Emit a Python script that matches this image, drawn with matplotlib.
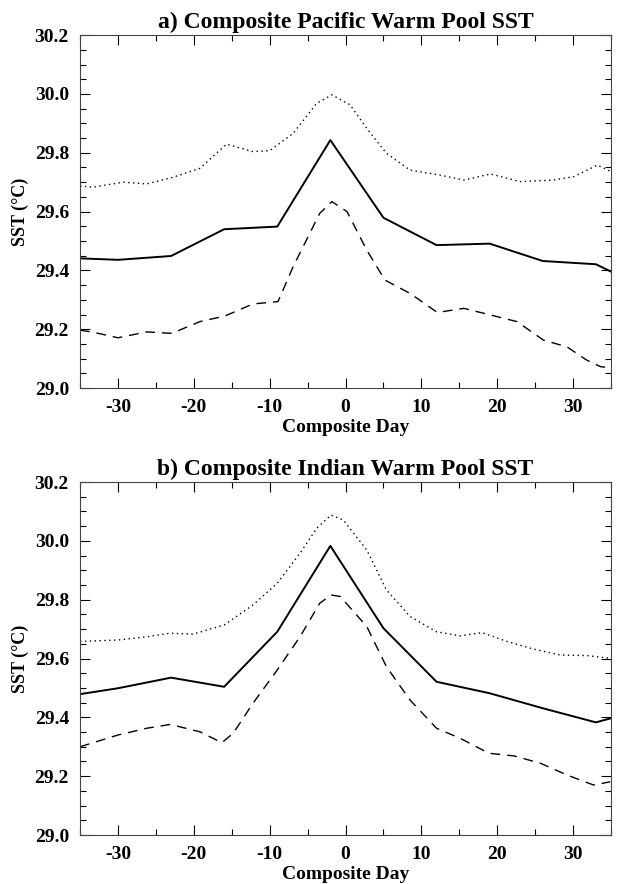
import numpy as np
import matplotlib.pyplot as plt
from matplotlib.ticker import MultipleLocator

plt.rcParams['font.family'] = ['Liberation Serif', 'DejaVu Serif']
plt.rcParams['font.weight'] = 'bold'

# panel a) Pacific warm pool
pac_mean_day = [-35, -30, -23, -16, -9, -2, 5, 12, 19, 26, 33, 35]
pac_mean = [29.441, 29.436, 29.449, 29.540, 29.549, 29.843, 29.579, 29.486, 29.491, 29.432, 29.421, 29.396]

pac_hi_day = [-35, -33.3, -29.3, -26.2, -22.7, -19.2, -15.7, -12.2, -10.0, -6.9, -3.8, -1.8,
              0.6, 2.8, 5.4, 8.5, 12.5, 15.6, 19.1, 23.0, 27.4, 30.1, 33.2, 35]
pac_hi = [29.687, 29.683, 29.700, 29.694, 29.717, 29.747, 29.829, 29.804, 29.807, 29.866, 29.968, 29.997,
          29.963, 29.883, 29.798, 29.741, 29.724, 29.707, 29.728, 29.702, 29.707, 29.719, 29.758, 29.736]

pac_lo_day = [-35, -33.3, -30, -26.2, -22.9, -19.2, -15.9, -12.2, -8.9, -6.9, -3.4, -1.8, 0.2,
              2.8, 5.2, 8.5, 12.1, 15.6, 19.2, 22.6, 26.1, 29.2, 31.8, 33.6, 34.5]
pac_lo = [29.197, 29.190, 29.171, 29.191, 29.186, 29.226, 29.245, 29.286, 29.294, 29.413, 29.594, 29.634, 29.600,
          29.469, 29.367, 29.322, 29.257, 29.271, 29.248, 29.226, 29.163, 29.140, 29.095, 29.073, 29.070]

# panel b) Indian warm pool
ind_mean_day = [-35, -30, -23, -16, -9, -2, 5, 12, 19, 26, 33, 35]
ind_mean = [29.479, 29.499, 29.535, 29.504, 29.691, 29.983, 29.703, 29.521, 29.482, 29.431, 29.383, 29.397]

ind_hi_day = [-35, -30, -26.2, -23.1, -20.1, -16, -12.2, -9.0, -6.0, -3.8, -1.9, -0.3,
              2.8, 5.4, 8.5, 12.0, 15.1, 18.0, 21.3, 24.8, 28.3, 31.8, 34.9]
ind_hi = [29.658, 29.663, 29.674, 29.686, 29.683, 29.714, 29.782, 29.856, 29.958, 30.043, 30.088, 30.071,
          29.969, 29.833, 29.743, 29.691, 29.677, 29.688, 29.658, 29.632, 29.612, 29.610, 29.601]

ind_lo_day = [-35, -30, -26.2, -23.1, -19.2, -16.3, -14.8, -12.2, -9.0, -6.0, -3.4, -1.9, -0.7,
              2.8, 5.4, 8.5, 12.0, 15.1, 18.9, 22.2, 25.7, 29.2, 32.7, 34.9]
ind_lo = [29.300, 29.340, 29.363, 29.376, 29.351, 29.314, 29.346, 29.448, 29.561, 29.674, 29.788, 29.816, 29.811,
          29.709, 29.572, 29.459, 29.363, 29.329, 29.278, 29.269, 29.244, 29.204, 29.170, 29.181]

panels = [
    ('a) Composite Pacific Warm Pool SST', pac_mean_day, pac_mean, pac_hi_day, pac_hi, pac_lo_day, pac_lo),
    ('b) Composite Indian Warm Pool SST', ind_mean_day, ind_mean, ind_hi_day, ind_hi, ind_lo_day, ind_lo),
]

fig = plt.figure(figsize=(6.17, 8.84), dpi=100)
boxes = [[0.1297, 0.561, 0.8606, 0.3993], [0.1297, 0.0554, 0.8606, 0.3993]]

for box, (title, md, m, hd, h, ld, l) in zip(boxes, panels):
    ax = fig.add_axes(box)
    ax.plot(md, m, color='black', lw=1.4, ls='-')
    ax.plot(hd, h, color='black', lw=1.0, ls=(0, (1, 2.5)))
    ax.plot(ld, l, color='black', lw=1.0, ls=(0, (7, 5)))
    ax.set_xlim(-35, 35)
    ax.set_ylim(29.0, 30.2)
    ax.xaxis.set_major_locator(MultipleLocator(10))
    ax.xaxis.set_minor_locator(MultipleLocator(5))
    ax.yaxis.set_major_locator(MultipleLocator(0.2))
    ax.yaxis.set_minor_locator(MultipleLocator(0.05))
    ax.yaxis.set_major_formatter(plt.FormatStrFormatter('%.1f'))
    ax.tick_params(which='both', direction='in', top=True, right=True, width=0.8)
    ax.tick_params(which='major', length=7, labelsize=14, pad=8)
    ax.tick_params(which='minor', length=4)
    for s in ax.spines.values():
        s.set_linewidth(0.8)
        s.set_color('#444444')
    ax.set_xticks(np.arange(-30, 31, 10))
    ax.set_xticklabels([str(v) for v in range(-30, 31, 10)], fontweight='bold', fontsize=14)
    for t in ax.get_yticklabels():
        t.set_fontweight('bold')
    ax.set_title(title, fontsize=17, fontweight='bold', pad=5)
    ax.set_xlabel('Composite Day', fontsize=14, fontweight='bold', labelpad=2)
    ax.set_ylabel('SST (°C)', fontsize=13, fontweight='bold', labelpad=4)

fig.savefig('out.png', dpi=100)
